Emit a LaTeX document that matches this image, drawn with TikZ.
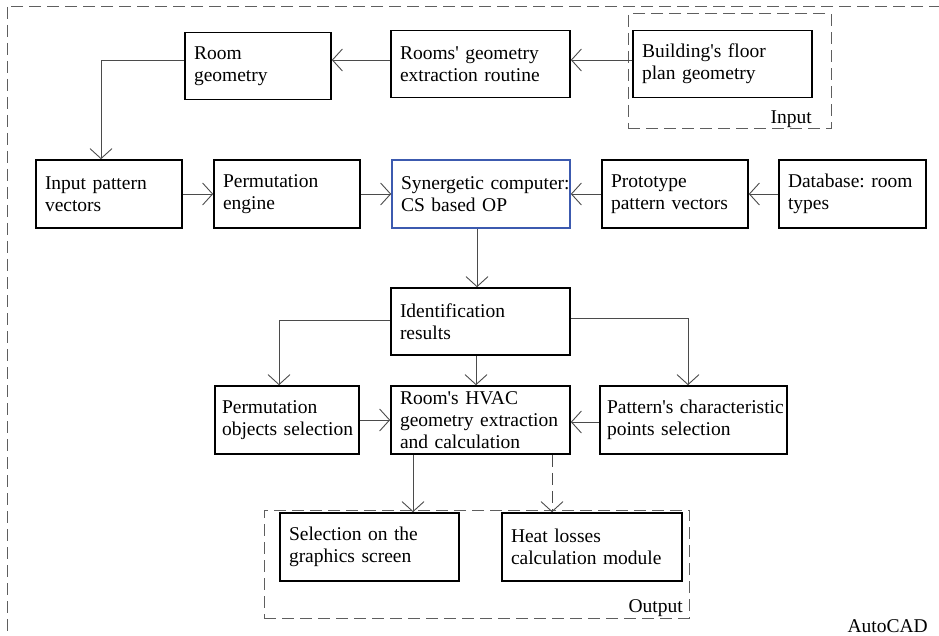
\documentclass[tikz,border=0pt]{standalone}
\usepackage{fontspec}
\setmainfont{Liberation Serif}
% separate family without the TeX ligature mapping, so ' stays a straight quote
\newfontfamily\boxfam{Liberation Serif}
\usetikzlibrary{arrows.meta}
\definecolor{linegray}{RGB}{75,75,75}
\definecolor{framegray}{RGB}{95,95,95}
\definecolor{synblue}{RGB}{60,90,175}
\newcommand\boxfont{\boxfam\fontsize{19.5}{22}\selectfont\hyphenpenalty=10000\exhyphenpenalty=10000\hbadness=10000\hfuzz=50pt}
\tikzset{
  blk/.style={draw=black, line width=1.6pt, rectangle, inner xsep=9pt, inner ysep=0pt,
    align=left, minimum height=67pt, font=\boxfont},
  link/.style={draw=linegray, line width=0.9pt, -{Straight Barb[length=10pt,width=22pt]}},
  group/.style={draw=framegray, line width=1pt, dash pattern=on 12pt off 6pt, rectangle, inner sep=0pt},
  tag/.style={font=\boxfont, inner sep=0pt, anchor=base east},
}
\begin{document}
\begin{tikzpicture}[x=1pt,y=-1pt]
\useasboundingbox (0,0) rectangle (939,636);
% outer frame, running off the page to the right and bottom
\begin{scope}
  \clip (0,0) rectangle (939,636);
  \draw[group] (7,7) rectangle (980,680);
\end{scope}

% groups
\node[group, minimum width=203pt, minimum height=115pt] (ingrp) at (729.5,71.5) {};
\node[group, minimum width=425pt, minimum height=108pt] (outgrp) at (476.5,564) {};

% blocks
\node[blk, text width=128pt] (room) at (258,66) {Room\\geometry};
\node[blk, text width=161pt] (extract) at (480.5,64) {Rooms'~geometry\\extraction~routine};
\node[blk, text width=161pt] (floor) at (722.5,64) {Building's~floor\\plan~geometry};
\node[blk, text width=128pt, minimum height=68pt] (ipv) at (109,194) {Input~pattern\\vectors};
\node[blk, text width=128pt, minimum height=68pt] (perm) at (287,194) {Permutation\\engine};
\node[blk, draw=synblue, text width=160pt, minimum height=68pt] (syn) at (481,194) {Synergetic~computer:\\CS~based~OP};
\node[blk, text width=128pt, minimum height=68pt] (proto) at (675,194) {Prototype\\pattern~vectors};
\node[blk, text width=129pt, minimum height=68pt] (db) at (852.5,194) {Database:~room\\types};
\node[blk, text width=161pt] (ident) at (480.5,321.5) {Identification\\results};
\node[blk, text width=130pt, minimum height=68pt, inner xsep=7pt] (pos) at (287,420) {Permutation\\objects~selection};
\node[blk, text width=161pt, minimum height=68pt] (hvac) at (480.5,420) {Room's~HVAC\\geometry~extraction\\and~calculation};
\node[blk, text width=173pt, minimum height=68pt, inner xsep=7pt] (pcs) at (693.5,420) {Pattern's~characteristic\\points~selection};
\node[blk, text width=161pt, minimum height=68pt] (sel) at (369.5,547) {Selection~on~the\\graphics~screen};
\node[blk, text width=162pt, minimum height=68pt] (heat) at (592,547) {Heat~losses\\calculation~module};

% labels
\node[tag] (inlbl) at (812,124) {Input};
\node[tag] (outlbl) at (683,612) {Output};
\node[tag] (acad) at (928,632) {AutoCAD};

% connectors
\draw[link] ([yshift=4pt]floor.west) -- ([yshift=4pt]floor.west -| extract.east);
\draw[link] ([yshift=4pt]extract.west) -- ([yshift=4pt]extract.west -| room.east);
\draw[link] ([yshift=6pt]room.west) -| ([xshift=-8pt]ipv.north);
\draw[link] (ipv.east) -- (perm.west);
\draw[link] (perm.east) -- (perm.east -| syn.west);
\draw[link] (proto.west) -- (proto.west -| syn.east);
\draw[link] (db.west) -- (proto.east);
\draw[link] ([xshift=-4pt]syn.south) -- ([xshift=-4pt]syn.south |- ident.north);
\draw[link] ([yshift=1pt]ident.west) -| ([xshift=-8pt]pos.north);
\draw[link] ([yshift=3pt]ident.east) -| ([xshift=-5.5pt]pcs.north);
\draw[link] ([xshift=-4.5pt]ident.south) -- ([xshift=-4.5pt]ident.south |- hvac.north);
\draw[link] (pos.east) -- (hvac.west);
\draw[link] ([yshift=-2pt]pcs.west) -- ([yshift=-2pt]pcs.west -| hvac.east);
\draw[link] ([xshift=-67.5pt]hvac.south) -- ([xshift=-67.5pt]hvac.south |- sel.north);
\draw[link, dash pattern=on 12pt off 6pt] ([xshift=71.5pt]hvac.south) -- ([xshift=71.5pt]hvac.south |- heat.north);
\end{tikzpicture}
\end{document}
